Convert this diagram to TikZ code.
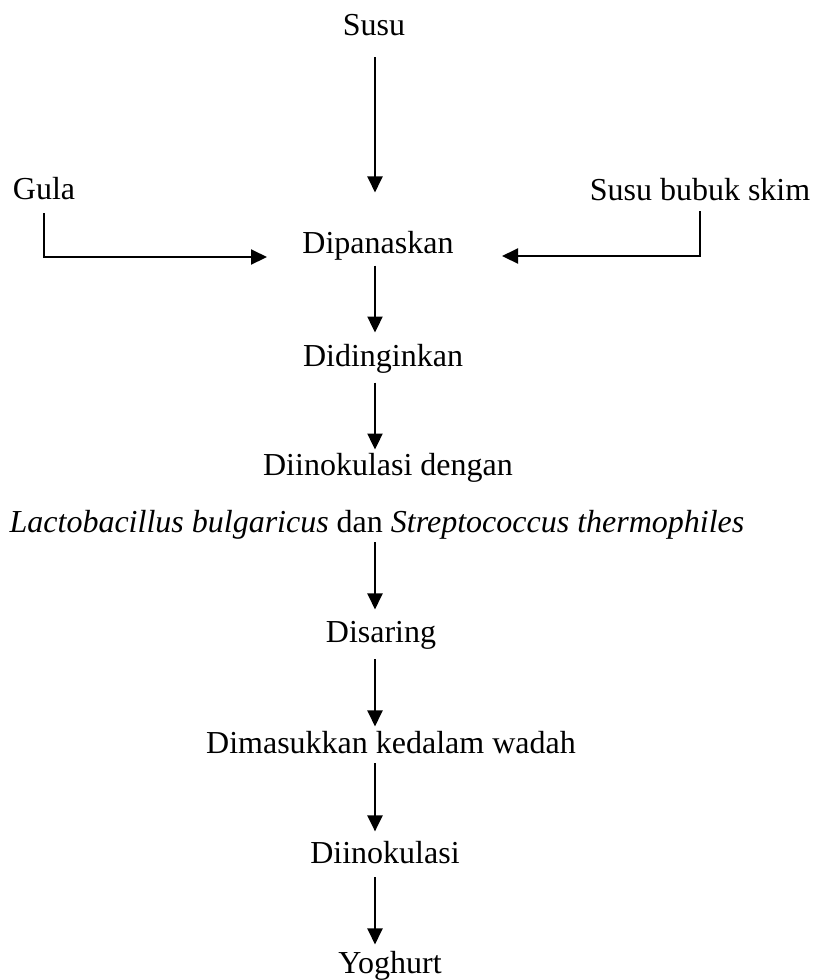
\documentclass[tikz,border=0pt]{standalone}
\usepackage{fontspec}
\setmainfont{Liberation Serif}
\usetikzlibrary{arrows.meta}

\begin{document}
\begin{tikzpicture}[x=0.375pt,y=-0.375pt]
	\tikzset{every node/.style={inner sep=0pt,anchor=base,text height=8.25pt,text depth=2.6pt,font=\fontsize{12}{14}\selectfont}}
	\tikzset{flow/.style={line width=0.9pt,-{Triangle[length=6pt,width=5.6pt]}}}
	%\tikzset{flow/.style={thick,->}}
	\useasboundingbox (0,0) rectangle (814,980);
	\coordinate (axis) at (375,0);
	\node (susu) at (374,35) {Susu};
	\node (gula) at (44,199) {Gula};
	\node (skim) at (700,200) {Susu bubuk skim};
	\node (panas) at (378,253) {Dipanaskan};
	\node (dingin) at (383,366) {Didinginkan};
	\node (inok) at (388,475) {Diinokulasi dengan};
	\node (bakteri) at (377,532) {\textit{Lactobacillus bulgaricus} dan \textit{Streptococcus thermophiles}};
	\node (saring) at (381,642) {Disaring};
	\node (wadah) at (391,753) {Dimasukkan kedalam wadah};
	\node (inok2) at (385,863) {Diinokulasi};
	\node (yoghurt) at (390,973) {Yoghurt};
	\coordinate (gulaend) at (267,257);
	\coordinate (skimend) at (502,256);
	\draw[flow,shorten <=5.6pt,shorten >=14.25pt] (susu.south -| axis) -- (panas.north -| axis);
	\draw[flow,shorten <=2.6pt] (gula.south) |- (gulaend);
	\draw[flow,shorten <=1.5pt] (skim.south) |- (skimend);
	\draw[flow,shorten <=1.9pt,shorten >=4.1pt] (panas.south -| axis) -- (dingin.north -| axis);
	\draw[flow,shorten <=3.4pt,shorten >=1.1pt] (dingin.south -| axis) -- (inok.north -| axis);
	\draw[flow,shorten <=1.1pt,shorten >=3.75pt] (bakteri.south -| axis) -- (saring.north -| axis);
	\draw[flow,shorten <=3.75pt,shorten >=1.5pt] (saring.south -| axis) -- (wadah.north -| axis);
	\draw[flow,shorten <=1.1pt,shorten >=3.4pt] (wadah.south -| axis) -- (inok2.north -| axis);
	\draw[flow,shorten <=2.6pt,shorten >=2.25pt] (inok2.south -| axis) -- (yoghurt.north -| axis);
\end{tikzpicture}
\end{document}
